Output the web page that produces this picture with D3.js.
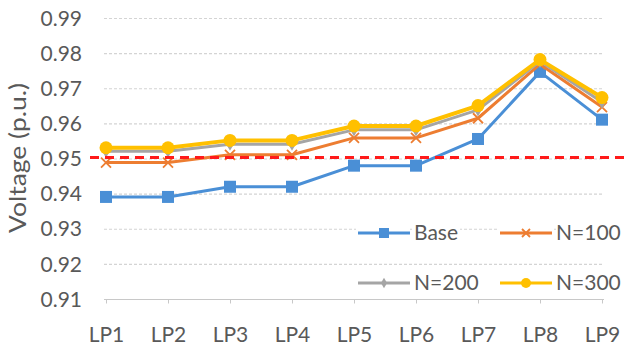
<!DOCTYPE html>
<html><head><meta charset="utf-8">
<script src="https://cdn.jsdelivr.net/npm/d3@7"></script>
<style>body{margin:0;background:#fff}svg{display:block}</style>
</head><body>
<svg id="c" width="624" height="347"></svg>
<script>
const categories = ["LP1","LP2","LP3","LP4","LP5","LP6","LP7","LP8","LP9"];
const base  = [0.9392,0.9392,0.9421,0.9421,0.9481,0.9481,0.9557,0.9748,0.9612];
const n100  = [0.9490,0.9490,0.9512,0.9512,0.9560,0.9560,0.9616,0.9770,0.9648];
const n200  = [0.9522,0.9522,0.9542,0.9542,0.9583,0.9583,0.9640,0.9778,0.9662];
const n300  = [0.9532,0.9532,0.9553,0.9553,0.9594,0.9594,0.9652,0.9783,0.9675];
const yTicks = [0.91,0.92,0.93,0.94,0.95,0.96,0.97,0.98,0.99];
const limit = 0.95;
const seriesNames = ["Base","N=100","N=200","N=300"];

const svg = d3.select("#c");
const font = "Lato, 'Open Sans', sans-serif";
const txt = "#595959";
const x = d3.scalePoint().domain(categories).range([106, 602]);
const y = d3.scaleLinear().domain([0.91, 0.99]).range([299.5, 18.5]);

// gridlines
svg.append("g").selectAll("line").data(yTicks.filter(d => d > 0.91)).join("line")
  .attr("x1", 104).attr("x2", 604)
  .attr("y1", d => y(d)).attr("y2", d => y(d))
  .attr("stroke", "#d4d4d4").attr("stroke-width", 1.2).attr("stroke-dasharray", "3,2");

// x axis
const xAxis = svg.append("g").attr("transform", `translate(0,${y(0.91)})`)
  .call(d3.axisBottom(x).tickSize(4).tickPadding(24));
xAxis.select(".domain").attr("stroke", "#c8c8c8").attr("d", "M104,0H604");
xAxis.selectAll(".tick line").attr("stroke", "#c8c8c8");
xAxis.selectAll("text").attr("font-family", font).attr("font-size", 21).attr("fill", txt);

// y axis
const yAxis = svg.append("g").attr("transform", "translate(85,0)")
  .call(d3.axisLeft(y).tickValues(yTicks).tickSize(0).tickPadding(3).tickFormat(d3.format(".2f")));
yAxis.select(".domain").remove();
yAxis.selectAll("text").attr("font-family", font).attr("font-size", 21).attr("fill", txt);

svg.append("text").attr("transform", "translate(26,158) rotate(-90)")
  .attr("text-anchor", "middle").attr("font-family", font).attr("font-size", 23).attr("fill", txt)
  .attr("textLength", 150).attr("lengthAdjust", "spacingAndGlyphs")
  .text("Voltage (p.u.)");

const line = d3.line().x((d, i) => x(categories[i])).y(d => y(d));
const series = [
  {name: seriesNames[0], vals: base, color: "#4a8fd6", w: 3, m: "square"},
  {name: seriesNames[1], vals: n100, color: "#ed7d31", w: 3, m: "x"},
  {name: seriesNames[2], vals: n200, color: "#a5a5a5", w: 3, m: "diamond"},
  {name: seriesNames[3], vals: n300, color: "#ffc000", w: 4, m: "circle"}
];

function marker(g, type, color, size) {
  if (type === "square") g.append("rect").attr("x", -size/2).attr("y", -size/2).attr("width", size).attr("height", size).attr("fill", color);
  else if (type === "circle") g.append("circle").attr("r", size/2).attr("fill", color);
  else if (type === "diamond") g.append("path").attr("d", d3.symbol(d3.symbolDiamond, size*size*0.5)()).attr("fill", color);
  else if (type === "x") g.append("path").attr("d", `M${-size/2},${-size/2}L${size/2},${size/2}M${-size/2},${size/2}L${size/2},${-size/2}`).attr("stroke", color).attr("stroke-width", 1.8);
}

series.forEach(s => {
  svg.append("path").datum(s.vals).attr("d", line).attr("fill", "none")
    .attr("stroke", s.color).attr("stroke-width", s.w).attr("stroke-linejoin", "round");
  s.vals.forEach((v, i) => {
    const g = svg.append("g").attr("transform", `translate(${x(categories[i])},${y(v)})`);
    marker(g, s.m, s.color, s.m === "circle" ? 13 : (s.m === "square" ? 12 : 10));
  });
});

// limit line
svg.append("line").attr("x1", 90).attr("x2", 624).attr("y1", y(limit) - 1.5).attr("y2", y(limit) - 1.5)
  .attr("stroke", "#ff1a1a").attr("stroke-width", 3).attr("stroke-dasharray", "9,6");

// legend
const legPos = [[358, 233], [500, 233], [358, 283], [500, 283]];
series.forEach((s, i) => {
  const [lx, ly] = legPos[i];
  const g = svg.append("g").attr("transform", `translate(${lx},${ly})`);
  g.append("rect").attr("x", -2).attr("y", -14).attr("width", 54).attr("height", 28).attr("fill", "#fff");
  g.append("line").attr("x1", 0).attr("x2", 52).attr("stroke", s.color).attr("stroke-width", 3);
  const mg = g.append("g").attr("transform", "translate(26,0)");
  marker(mg, s.m, s.color, s.m === "circle" ? 10 : (s.m === "square" ? 10 : 8));
  const t = g.append("text").attr("x", 56).attr("y", 0).attr("dy", "0.35em")
    .attr("font-family", font).attr("font-size", 21).attr("fill", txt).text(s.name);
  const bb = t.node().getBBox();
  g.insert("rect", "text").attr("x", bb.x).attr("y", bb.y).attr("width", bb.width + 2).attr("height", bb.height).attr("fill", "#fff");
});
</script>
</body></html>
